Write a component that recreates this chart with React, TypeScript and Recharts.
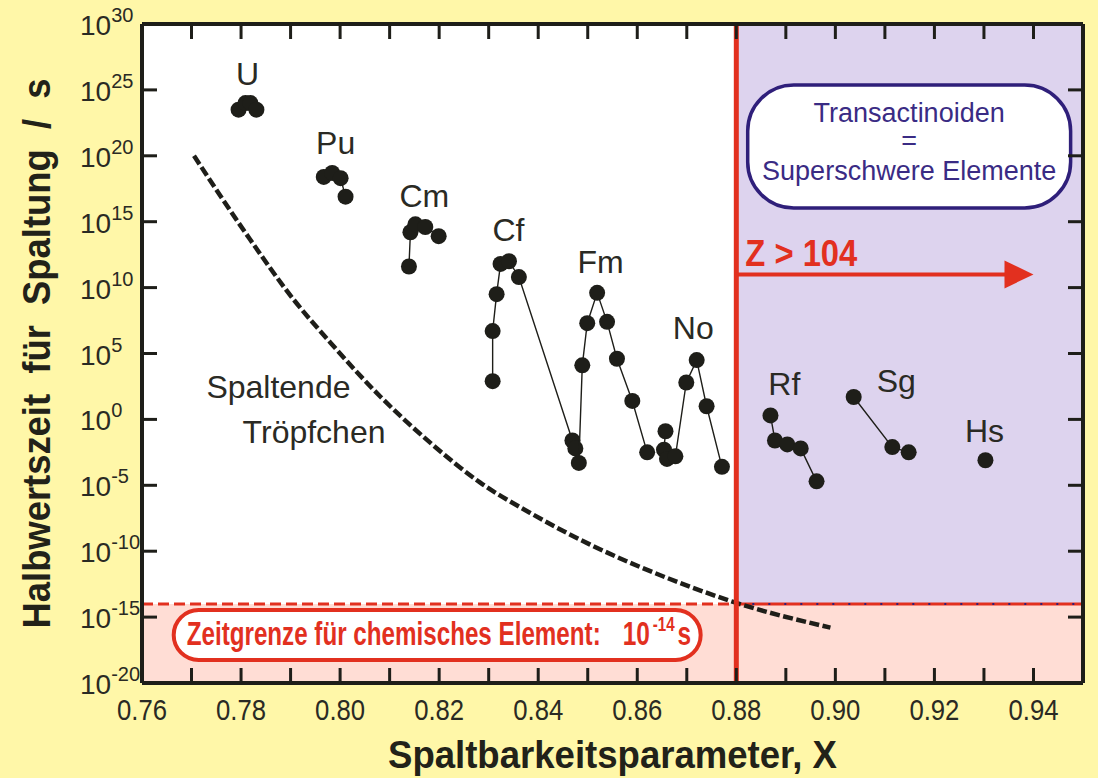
import {
  ComposedChart,
  Line,
  Scatter,
  XAxis,
  YAxis,
  ReferenceArea,
  ReferenceLine,
  ReferenceDot,
  Label,
} from 'recharts'

const FONT = "'Liberation Sans', Arial, Helvetica, sans-serif"
const INK = '#1e1e19'
const TEXT = '#2a2a24'
const RED = '#e2301f'
const NAVY = '#2f1f7a'
const PURPLE_TEXT = '#3a2b84'

// x axis: fissility parameter, y axis: log10 of the fission half-life in s
const xTicks = [
  0.76, 0.77, 0.78, 0.79, 0.8, 0.81, 0.82, 0.83, 0.84, 0.85,
  0.86, 0.87, 0.88, 0.89, 0.9, 0.91, 0.92, 0.93, 0.94,
]
const yTicks = [1e-20, 1e-15, 1e-10, 1e-5, 1, 1e5, 1e10, 1e15, 1e20, 1e25, 1e30]

const uX = [0.7795, 0.7809, 0.7819, 0.7831]
const uLog = [23.5, 24.0, 24.0, 23.5]

const puX = [0.7967, 0.7984, 0.8001, 0.8011]
const puLog = [18.4, 18.7, 18.3, 16.9]

const cmX = [0.8139, 0.8142, 0.8152, 0.8172, 0.8199]
const cmLog = [11.6, 14.2, 14.8, 14.6, 13.9]

const cfX = [0.8308, 0.8308, 0.8316, 0.8324, 0.8341, 0.8361, 0.8469, 0.8475]
const cfLog = [2.9, 6.7, 9.5, 11.8, 12.0, 10.8, -1.6, -2.2]

const fmX = [0.8482, 0.8489, 0.8499, 0.8519, 0.8539, 0.8559, 0.859, 0.862]
const fmLog = [-3.3, 4.1, 7.3, 9.6, 7.4, 4.6, 1.4, -2.5]

const noX = [0.8657, 0.8654, 0.866, 0.8677, 0.8699, 0.872, 0.874, 0.8771]
const noLog = [-0.9, -2.3, -3.0, -2.8, 2.8, 4.5, 1.0, -3.6]

const rfX = [0.8869, 0.8878, 0.8903, 0.893, 0.8962]
const rfLog = [0.3, -1.6, -1.9, -2.2, -4.7]

const sgX = [0.9037, 0.9115, 0.9148]
const sgLog = [1.7, -2.1, -2.5]

const hsX = [0.9303]
const hsLog = [-3.1]

// liquid drop estimate ("Spaltende Tröpfchen")
const dropX = [0.7705, 0.781, 0.7906, 0.7981, 0.8082, 0.8183, 0.8283, 0.8384, 0.8505, 0.8606, 0.8707, 0.8794, 0.899]
const dropLog = [20.0, 14.1, 9.1, 5.8, 1.7, -1.8, -4.8, -7.1, -9.5, -11.2, -12.7, -13.85, -15.8]

const elementNames = ['U', 'Pu', 'Cm', 'Cf', 'Fm', 'No', 'Rf', 'Sg', 'Hs']
const labelX = [0.7813, 0.7991, 0.817, 0.834, 0.8526, 0.8713, 0.8897, 0.9123, 0.9301]
const labelLog = [25.4, 20.1, 16.1, 13.5, 11.1, 6.1, 1.85, 2.1, -1.7]

const CHEM_LIMIT = 1e-14
const Z_EDGE = 0.88

const toPoints = (xs: number[], logs: number[]) => xs.map((x, i) => ({ x, t: 10 ** logs[i] }))

const series = [uX, puX, cmX, cfX, fmX, noX, rfX, sgX, hsX].map((xs, i) =>
  toPoints(xs, [uLog, puLog, cmLog, cfLog, fmLog, noLog, rfLog, sgLog, hsLog][i]),
)
const dropPts = toPoints(dropX, dropLog)

const Dot = (p: any) => <circle cx={p.cx} cy={p.cy} r={8} fill={INK} />

function BottomTick({ x, y, payload }: any) {
  const v = payload.value as number
  const labelled = Math.round(v * 100) % 2 === 0
  return (
    <g>
      <line x1={x} x2={x} y1={y} y2={y - 15} stroke={INK} strokeWidth={3} />
      {labelled && (
        <text
          x={x}
          y={y + 37}
          textAnchor="middle"
          fontFamily={FONT}
          fontSize={30}
          textLength={50}
          lengthAdjust="spacingAndGlyphs"
          fill={TEXT}
        >
          {v.toFixed(2)}
        </text>
      )}
    </g>
  )
}

function TopTick({ x, y }: any) {
  return <line x1={x} x2={x} y1={y} y2={y + 15} stroke={INK} strokeWidth={3} />
}

function LeftTick({ x, y, payload }: any) {
  const exp = Math.round(Math.log10(payload.value))
  return (
    <g>
      <line x1={x} x2={x + 15} y1={y} y2={y} stroke={INK} strokeWidth={3} />
      <text x={x - 62} y={y + 11} fontFamily={FONT} fontSize={28} fill={TEXT}>
        10
        <tspan dy={-13} fontSize={20}>
          {exp}
        </tspan>
      </text>
    </g>
  )
}

function RightTick({ x, y }: any) {
  return <line x1={x} x2={x - 15} y1={y} y2={y} stroke={INK} strokeWidth={3} />
}

const nameShape = (name: string) => (p: any) => (
  <text x={p.cx} y={p.cy} textAnchor="middle" fontFamily={FONT} fontSize={32} fill={TEXT}>
    {name}
  </text>
)

const DropLabel = (p: any) => (
  <g fontFamily={FONT} fontSize={32} fill={TEXT} textAnchor="end">
    <text x={p.cx} y={p.cy}>Spaltende</text>
    <text x={p.cx + 35} y={p.cy + 45}>Tröpfchen</text>
  </g>
)

const ZLabel = (p: any) => (
  <text
    x={p.cx + 9}
    y={p.cy - 8}
    fontFamily={FONT}
    fontWeight="bold"
    fontSize={36}
    textLength={112}
    lengthAdjust="spacingAndGlyphs"
    fill={RED}
  >
    Z &gt; 104
  </text>
)

const ArrowHead = (p: any) => (
  <polygon points={`${p.cx},${p.cy} ${p.cx - 29},${p.cy - 14} ${p.cx - 29},${p.cy + 14}`} fill={RED} />
)

const TransBox = (p: any) => {
  const { x, y, width, height } = p
  const cx = x + width / 2
  return (
    <g>
      <rect x={x} y={y} width={width} height={height} rx={46} fill="#ffffff" stroke={NAVY} strokeWidth={3.5} />
      <g fontFamily={FONT} fontSize={27} fill={PURPLE_TEXT} textAnchor="middle">
        <text x={cx} y={y + 37}>Transactinoiden</text>
        <text x={cx} y={y + 65}>=</text>
        <text x={cx} y={y + 95}>Superschwere Elemente</text>
      </g>
    </g>
  )
}

// condensed bold lettering for the 10^-14 s limit
const LimitBox = (p: any) => {
  const { x, y, width, height } = p
  return (
    <g>
      <rect x={x} y={y} width={width} height={height} rx={25} fill="#ffffff" stroke={RED} strokeWidth={4} />
      <g fontFamily={FONT} fontWeight="bold" fill={RED}>
        <text x={x + 13} y={y + 35} fontSize={34} textLength={414} lengthAdjust="spacingAndGlyphs">
          Zeitgrenze für chemisches Element:
        </text>
        <text transform={`translate(${x + 449} ${y + 35}) scale(0.72 1)`} fontSize={34}>
          10
          <tspan dx={4} dy={-14} fontSize={21}>
            -14
          </tspan>
          <tspan dx={4} dy={14}>
            s
          </tspan>
        </text>
      </g>
    </g>
  )
}

const XTitle = (p: any) => {
  const vb = p.viewBox
  return (
    <text
      x={vb.x + vb.width / 2}
      y={vb.y + 85}
      textAnchor="middle"
      fontFamily={FONT}
      fontWeight="bold"
      fontSize={38}
      textLength={449}
      lengthAdjust="spacingAndGlyphs"
      fill="#222219"
    >
      Spaltbarkeitsparameter, X
    </text>
  )
}

const YTitle = (p: any) => {
  const vb = p.viewBox
  const cy = vb.y + vb.height / 2
  return (
    <text
      transform={`translate(50 ${cy}) rotate(-90)`}
      textAnchor="middle"
      fontFamily={FONT}
      fontWeight="bold"
      fontSize={39}
      textLength={550}
      lengthAdjust="spacingAndGlyphs"
      fill="#222219"
      style={{ whiteSpace: 'pre' }}
    >
      {'Halbwertszeit  für  Spaltung  /  s'}
    </text>
  )
}

export default function App() {
  return (
    <div style={{ position: 'absolute', left: 0, top: 0, width: 1098, height: 778, background: '#fff7a8' }}>
      <ComposedChart width={1098} height={778} margin={{ top: 14, right: 5, bottom: 0, left: 0 }}>
        <XAxis
          dataKey="x"
          type="number"
          domain={[0.76, 0.95]}
          ticks={xTicks}
          interval={0}
          tickSize={0}
          tickMargin={0}
          tickLine={false}
          tick={<BottomTick />}
          height={95}
          axisLine={{ stroke: INK, strokeWidth: 4 }}
          allowDataOverflow
        >
          <Label content={XTitle} />
        </XAxis>
        <XAxis
          xAxisId="top"
          orientation="top"
          dataKey="x"
          type="number"
          domain={[0.76, 0.95]}
          ticks={xTicks}
          interval={0}
          tickSize={0}
          tickMargin={0}
          tickLine={false}
          tick={<TopTick />}
          height={10}
          axisLine={{ stroke: INK, strokeWidth: 4 }}
          allowDataOverflow
        />
        <YAxis
          dataKey="t"
          type="number"
          scale="log"
          domain={[1e-20, 1e30]}
          ticks={yTicks}
          interval={0}
          tickSize={0}
          tickMargin={0}
          tickLine={false}
          tick={<LeftTick />}
          width={142}
          axisLine={{ stroke: INK, strokeWidth: 4 }}
          allowDataOverflow
        >
          <Label content={YTitle} />
        </YAxis>
        <YAxis
          yAxisId="right"
          orientation="right"
          dataKey="t"
          type="number"
          scale="log"
          domain={[1e-20, 1e30]}
          ticks={yTicks}
          interval={0}
          tickSize={0}
          tickMargin={0}
          tickLine={false}
          tick={<RightTick />}
          width={10}
          axisLine={{ stroke: INK, strokeWidth: 4 }}
          allowDataOverflow
        />

        <ReferenceArea x1={0.76} x2={Z_EDGE} y1={CHEM_LIMIT} y2={1e30} fill="#ffffff" fillOpacity={1} stroke="none" />
        <ReferenceArea x1={Z_EDGE} x2={0.95} y1={CHEM_LIMIT} y2={1e30} fill="#ddd3ee" fillOpacity={1} stroke="none" />
        <ReferenceArea x1={0.76} x2={0.95} y1={1e-20} y2={CHEM_LIMIT} fill="#ffddd5" fillOpacity={1} stroke="none" />

        <ReferenceLine
          segment={[{ x: 0.76, y: CHEM_LIMIT }, { x: Z_EDGE, y: CHEM_LIMIT }]}
          stroke={RED}
          strokeWidth={3}
          strokeDasharray="11 5"
        />
        <ReferenceLine
          segment={[{ x: Z_EDGE, y: CHEM_LIMIT }, { x: 0.95, y: CHEM_LIMIT }]}
          stroke={RED}
          strokeWidth={3}
        />
        <ReferenceLine
          segment={[{ x: Z_EDGE, y: CHEM_LIMIT }, { x: 0.95, y: CHEM_LIMIT }]}
          stroke={NAVY}
          strokeWidth={2}
          strokeDasharray="2 14"
        />

        <ReferenceArea x1={0.7664} x2={0.8728} y1={10 ** -18.25} y2={10 ** -14.46} shape={LimitBox} />
        <ReferenceArea x1={0.8823} x2={0.9475} y1={10 ** 16.04} y2={10 ** 25.37} shape={TransBox} />

        <Line
          data={dropPts}
          dataKey="t"
          type="monotone"
          stroke={INK}
          strokeWidth={4.5}
          strokeDasharray="10 3.5"
          dot={false}
          activeDot={false}
          isAnimationActive={false}
        />

        <ReferenceLine x={Z_EDGE} stroke={RED} strokeWidth={5} />
        <ReferenceLine
          segment={[{ x: Z_EDGE, y: 1e11 }, { x: 0.935, y: 1e11 }]}
          stroke={RED}
          strokeWidth={4}
        />
        <ReferenceDot x={0.94} y={1e11} r={1} shape={ArrowHead} ifOverflow="visible" />
        <ReferenceDot x={Z_EDGE} y={1e11} r={1} shape={ZLabel} ifOverflow="visible" />

        {series.map((pts, i) => (
          <Scatter
            key={elementNames[i]}
            name={elementNames[i]}
            data={pts}
            dataKey="t"
            shape={Dot}
            line={{ stroke: INK, strokeWidth: 1.4 }}
            lineType="joint"
            isAnimationActive={false}
          />
        ))}

        {elementNames.map((name, i) => (
          <ReferenceDot
            key={`lbl-${name}`}
            x={labelX[i]}
            y={10 ** labelLog[i]}
            r={1}
            shape={nameShape(name)}
            ifOverflow="visible"
          />
        ))}
        <ReferenceDot x={0.8021} y={10 ** 1.62} r={1} shape={DropLabel} ifOverflow="visible" />
      </ComposedChart>
    </div>
  )
}
